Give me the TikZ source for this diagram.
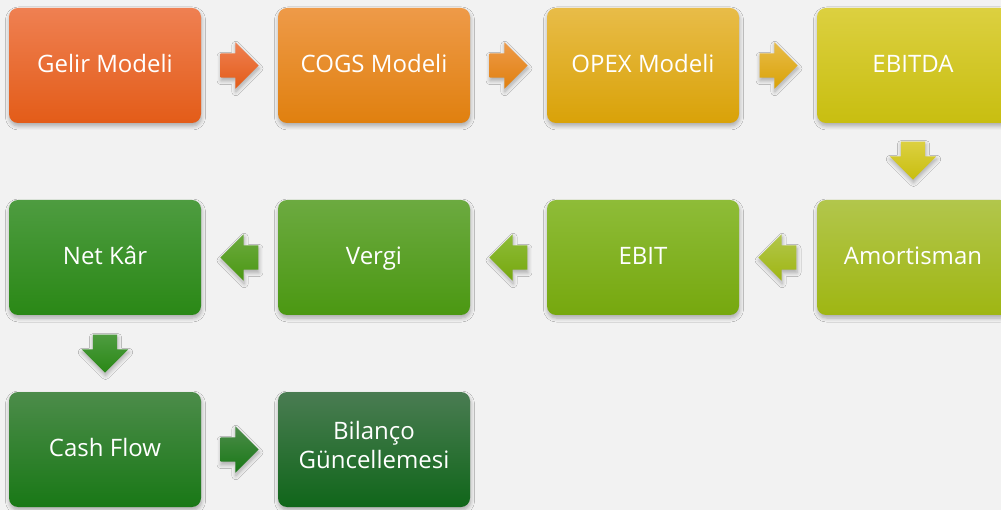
\documentclass[tikz,border=0pt]{standalone}
\usepackage{fontspec}
\setmainfont{Open Sans}
\usetikzlibrary{shapes.arrows,shadows.blur,calc}
\definecolor{bg}{HTML}{F2F2F2}
\begin{document}
\begin{tikzpicture}[x=1pt,y=-1pt,
  boxshadow/.style={blur shadow={shadow xshift=0.5pt, shadow yshift=-3pt, shadow blur steps=6, shadow blur radius=4pt, shadow opacity=30}},
  box/.style={rounded corners=9pt, minimum width=192pt, minimum height=115pt, inner sep=0pt,
    text=white, font=\fontsize{24}{29}\selectfont, align=center,
    execute at begin node={\rule[-7pt]{0pt}{29pt}}, execute at end node=\strut, boxshadow},
  harrow/.style={single arrow, single arrow head extend=11pt, minimum height=38pt, minimum width=46pt,
    inner xsep=0pt, inner ysep=12pt, anchor=tip, boxshadow},
  varrow/.style={single arrow, single arrow head extend=11pt, minimum height=38pt, minimum width=46pt,
    inner xsep=12pt, inner ysep=0pt, shape border rotate=270, anchor=tip, boxshadow}]
\useasboundingbox (0,0) rectangle (1001,510);
\clip (0,0) rectangle (1001,510);
\fill[bg] (0,0) rectangle (1001,510);

\definecolor{c1t}{HTML}{EF8052}\definecolor{c1b}{HTML}{E35C18}
\definecolor{c2t}{HTML}{EE9A48}\definecolor{c2b}{HTML}{E0800F}
\definecolor{c3t}{HTML}{E8BC48}\definecolor{c3b}{HTML}{D9A208}
\definecolor{c4t}{HTML}{DCD040}\definecolor{c4b}{HTML}{C8BE10}
\definecolor{c5t}{HTML}{B2C64C}\definecolor{c5b}{HTML}{9FB612}
\definecolor{c6t}{HTML}{8EBC38}\definecolor{c6b}{HTML}{76A80E}
\definecolor{c7t}{HTML}{6CAA40}\definecolor{c7b}{HTML}{4B9812}
\definecolor{c8t}{HTML}{4E9C40}\definecolor{c8b}{HTML}{2A8816}
\definecolor{c9t}{HTML}{4C8C4A}\definecolor{c9b}{HTML}{197816}
\definecolor{c10t}{HTML}{4A7C52}\definecolor{c10b}{HTML}{10661A}

\node[box, top color=c1t, bottom color=c1b] (gelir) at (105,65.5) {Gelir Modeli};
\node[box, top color=c2t, bottom color=c2b] (cogs) at (374,65.5) {COGS Modeli};
\node[box, top color=c3t, bottom color=c3b] (opex) at (643,65.5) {OPEX Modeli};
\node[box, top color=c4t, bottom color=c4b] (ebitda) at (913,65.5) {EBITDA};
\node[box, top color=c5t, bottom color=c5b] (amort) at (913,257.5) {Amortisman};
\node[box, top color=c6t, bottom color=c6b] (ebit) at (643,257.5) {EBIT};
\node[box, top color=c7t, bottom color=c7b] (vergi) at (374,257.5) {Vergi};
\node[box, top color=c8t, bottom color=c8b] (netkar) at (105,257.5) {Net Kâr};
\node[box, top color=c9t, bottom color=c9b] (cash) at (105,449.5) {Cash Flow};
\node[box, top color=c10t, bottom color=c10b] (bilanco) at (374,449.5) {Bilanço\\Güncellemesi};

\node[harrow, top color=c1t, bottom color=c1b] (a1) at ($(cogs.west)+(-19,0)$) {};
\node[harrow, top color=c2t, bottom color=c2b] (a2) at ($(opex.west)+(-19,0)$) {};
\node[harrow, top color=c3t, bottom color=c3b] (a3) at ($(ebitda.west)+(-19,0)$) {};
\node[varrow, top color=c4t, bottom color=c4b] (a4) at ($(amort.north)+(0,-20)$) {};
\node[harrow, shape border rotate=180, top color=c5t, bottom color=c5b] (a5) at ($(ebit.east)+(19,0)$) {};
\node[harrow, shape border rotate=180, top color=c6t, bottom color=c6b] (a6) at ($(vergi.east)+(19,0)$) {};
\node[harrow, shape border rotate=180, top color=c7t, bottom color=c7b] (a7) at ($(netkar.east)+(19,0)$) {};
\node[varrow, top color=c8t, bottom color=c8b] (a8) at ($(cash.north)+(0,-19)$) {};
\node[harrow, top color=c9t, bottom color=c9b] (a9) at ($(bilanco.west)+(-19,0)$) {};
\end{tikzpicture}
\end{document}
